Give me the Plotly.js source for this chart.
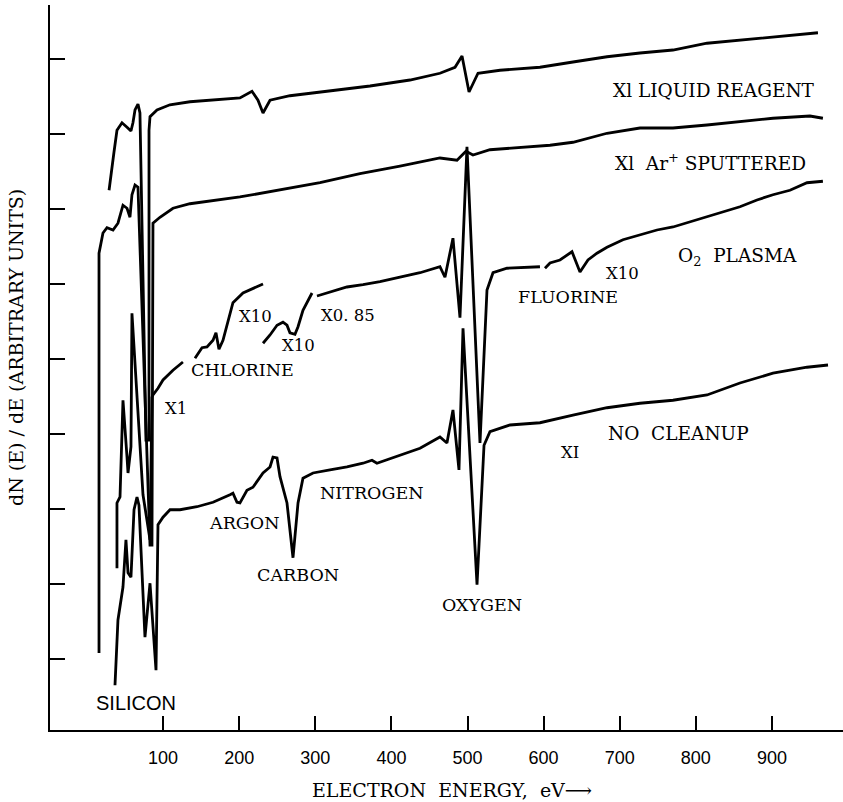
<!DOCTYPE html>
<html>
<head>
<meta charset="utf-8">
<script src="https://cdn.plot.ly/plotly-3.0.1.min.js"></script>
<style>
  html, body { margin: 0; padding: 0; background: #fff; }
  #chart { width: 843px; height: 802px; }
</style>
</head>
<body>
<div id="chart"></div>
<script>
// ---- Data (electron energy in eV, dN(E)/dE in arbitrary units) ----
// X1 LIQUID REAGENT
const liquidE = [29, 33, 35.5, 39.4, 46, 52.6, 57.8, 60.4, 63.1, 67, 69.6, 77.5, 81.5, 81.5, 82.8, 92, 109, 135.3, 201, 216.8, 224.7, 231.3, 240.5, 266.7, 319.3, 371.9, 424.4, 463.8, 483.6, 492.8, 502, 513.8, 542.7, 595.2, 638.6, 683.3, 726.6, 770, 814.7, 858, 901.4, 960.5];
const liquidY = [7.25, 7.61, 7.76, 8.05, 8.15, 8.09, 8.04, 8.15, 8.32, 8.4, 8.28, 3.92, 3.92, 8.05, 8.23, 8.32, 8.39, 8.43, 8.48, 8.57, 8.45, 8.28, 8.45, 8.51, 8.57, 8.64, 8.72, 8.81, 8.89, 9.04, 8.56, 8.81, 8.85, 8.89, 8.96, 9.03, 9.08, 9.12, 9.21, 9.25, 9.29, 9.35];

// X1 Ar+ SPUTTERED
const sputE = [15.8, 15.8, 21, 26.3, 34.2, 40.7, 47.3, 52.6, 56.5, 59.1, 63.1, 67, 82.8, 85.4, 86.7, 95.9, 113, 135.3, 201, 253.6, 306.2, 358.7, 411.3, 463.8, 486.2, 498, 507.2, 529.5, 608.4, 638.6, 683.3, 726.6, 770, 814.7, 858, 901.4, 950, 967];
const sputY = [1.08, 6.41, 6.68, 6.75, 6.72, 6.81, 7.05, 7.01, 6.89, 7.19, 7.32, 7.29, 2.52, 2.52, 6.81, 6.89, 7.01, 7.07, 7.16, 7.25, 7.35, 7.47, 7.57, 7.68, 7.65, 7.77, 7.72, 7.79, 7.85, 7.89, 8.01, 8.08, 8.08, 8.12, 8.16, 8.21, 8.24, 8.21];

// O2 PLASMA (segments recorded at different gains)
const plasmaSiE = [39.4, 39.4, 43.4, 47.3, 52.6, 53.9, 57.8, 59.1, 73.6, 82.8, 85.4, 86.7, 93.3, 99.9, 113, 126.1];
const plasmaSiY = [2.21, 3.08, 3.16, 4.45, 3.69, 3.48, 3.83, 5.61, 3.19, 2.59, 4.49, 4.52, 4.61, 4.72, 4.85, 4.96];
const plasmaClE = [141.9, 151.1, 157.7, 165.6, 169.5, 173.4, 178.7, 185.3, 191.8, 205, 231.3];
const plasmaClY = [5.01, 5.15, 5.16, 5.25, 5.35, 5.13, 5.25, 5.52, 5.75, 5.88, 6.0];
const plasmaCE = [231.3, 240.5, 249.7, 257.5, 262.8, 266.7, 273.3, 277.3, 283.8, 295.7];
const plasmaCY = [5.21, 5.32, 5.45, 5.49, 5.45, 5.35, 5.33, 5.43, 5.65, 5.88];
const plasmaOE = [302.2, 319.3, 341.6, 362.7, 385, 411.3, 437.6, 463.8, 470.4, 480.9, 490.1, 499.3, 516.4, 525.6, 533.5, 551.9, 595.2];
const plasmaOY = [5.84, 5.89, 5.96, 5.99, 6.03, 6.09, 6.15, 6.23, 6.09, 6.61, 5.55, 7.83, 3.88, 5.92, 6.15, 6.21, 6.23];
const plasmaFE = [601.8, 608.4, 621.5, 637.3, 647.8, 658.3, 670.1, 683.3, 704.3, 726.6, 749, 770, 792.3, 814.7, 835.7, 858, 880.4, 901.4, 923.7, 946.1, 967];
const plasmaFY = [6.21, 6.28, 6.32, 6.43, 6.16, 6.32, 6.41, 6.49, 6.59, 6.65, 6.72, 6.76, 6.83, 6.89, 6.96, 7.03, 7.12, 7.19, 7.25, 7.35, 7.37];

// X1 NO CLEANUP
const rawE = [36.8, 40.7, 47.3, 51.2, 53.9, 57.8, 61.8, 65.7, 68.3, 76.2, 82.8, 90.7, 93.3, 99.9, 109.1, 122.2, 144.5, 165.6, 187.9, 191.8, 197.1, 201, 210.2, 218.1, 231.3, 240.5, 244.4, 249.7, 253.6, 262.8, 270.7, 277.3, 283.8, 297, 319.3, 341.6, 362.7, 374.5, 381, 411.3, 437.6, 463.8, 473, 480.9, 488.8, 494.1, 512.5, 521.7, 529.5, 555.8, 595.2, 638.6, 683.3, 726.6, 770, 814.7, 858, 901.4, 946.1, 973.7];
const rawY = [0.65, 1.52, 1.96, 2.59, 2.15, 2.09, 2.99, 3.16, 3.05, 1.29, 2.01, 0.85, 2.79, 2.89, 2.99, 2.99, 3.03, 3.09, 3.19, 3.21, 3.09, 3.08, 3.25, 3.29, 3.48, 3.56, 3.69, 3.68, 3.43, 3.08, 2.35, 3.08, 3.41, 3.48, 3.52, 3.56, 3.61, 3.65, 3.61, 3.72, 3.81, 3.96, 3.88, 4.32, 3.52, 5.41, 1.99, 3.85, 4.03, 4.12, 4.15, 4.25, 4.35, 4.41, 4.45, 4.52, 4.68, 4.81, 4.89, 4.92];

const xTickVals = [100, 200, 300, 400, 500, 600, 700, 800, 900];
const xTickText = ['100', '200', '300', '400', '500', '600', '700', '800', '900'];
const yTickVals = [1, 2, 3, 4, 5, 6, 7, 8, 9];

// ---- Layout helpers (pixel -> paper) ----
const L = 50, T = 5, W = 793, H = 725;
const px = x => (x - L) / W;
const py = y => (T + H - y) / H;

const lineStyle = {color: '#000', width: 2.8};
function tr(x, y) {
  return {x: x, y: y, type: 'scatter', mode: 'lines', line: lineStyle, hoverinfo: 'skip', showlegend: false};
}
const traces = [
  tr(liquidE, liquidY), tr(sputE, sputY),
  tr(plasmaSiE, plasmaSiY), tr(plasmaClE, plasmaClY), tr(plasmaCE, plasmaCY),
  tr(plasmaOE, plasmaOY), tr(plasmaFE, plasmaFY),
  tr(rawE, rawY)
];

function serif(size) { return {family: 'DejaVu Serif, serif', size: size, color: '#000'}; }
function lab(text, x, y, font) {
  return {text: text, xref: 'paper', yref: 'paper', x: px(x), y: py(y), xanchor: 'center', yanchor: 'middle', showarrow: false, font: font};
}
const big = serif(18.5), mid = serif(17.5), small = serif(16.5);
const annotations = [
  lab('Xl LIQUID REAGENT', 714, 90, big),
  lab('Xl  Ar<sup>+</sup> SPUTTERED', 710, 162, big),
  lab('O<sub>2</sub>  PLASMA', 737, 257, big),
  lab('X10', 622, 273, small),
  lab('FLUORINE', 568, 297, mid),
  lab('X1', 176, 408, small),
  lab('CHLORINE', 242, 370, mid),
  lab('X10', 255, 316, small),
  lab('X10', 298, 345, small),
  lab('X0. 85', 348, 315, small),
  lab('ARGON', 244, 523, mid),
  lab('CARBON', 298, 575, mid),
  lab('NITROGEN', 372, 493, mid),
  lab('OXYGEN', 482, 605, mid),
  lab('XI', 570, 452, small),
  lab('NO  CLEANUP', 678, 433, big),
  lab('SILICON', 136, 703, {family: 'Liberation Sans, Arial, sans-serif', size: 20, color: '#000'}),
  lab('ELECTRON  ENERGY,  eV\u27F6', 452, 790, serif(19)),
  Object.assign(lab('dN (E) / dE (ARBITRARY UNITS)', 16, 348, serif(19)), {textangle: -90})
];

const layout = {
  width: 843, height: 802,
  margin: {l: L, r: 0, t: T, b: 802 - T - H, pad: 0},
  paper_bgcolor: '#fff', plot_bgcolor: '#fff',
  showlegend: false,
  xaxis: {
    range: [-48.6, 993.4], showgrid: false, zeroline: false,
    showline: true, linecolor: '#000', linewidth: 2,
    ticks: 'inside', ticklen: 14, tickwidth: 2, tickcolor: '#000',
    tickmode: 'array', tickvals: xTickVals, ticktext: xTickText,
    ticklabelstandoff: 10,
    tickfont: {family: 'Liberation Sans Narrow, Liberation Sans, Arial, sans-serif', size: 18, color: '#000'}
  },
  yaxis: {
    range: [0.053, 9.72], showgrid: false, zeroline: false,
    showline: true, linecolor: '#000', linewidth: 2,
    ticks: 'inside', ticklen: 15, tickwidth: 2, tickcolor: '#000',
    tickmode: 'array', tickvals: yTickVals, showticklabels: false
  },
  annotations: annotations
};

Plotly.newPlot('chart', traces, layout, {staticPlot: true, displayModeBar: false});
</script>
</body>
</html>
